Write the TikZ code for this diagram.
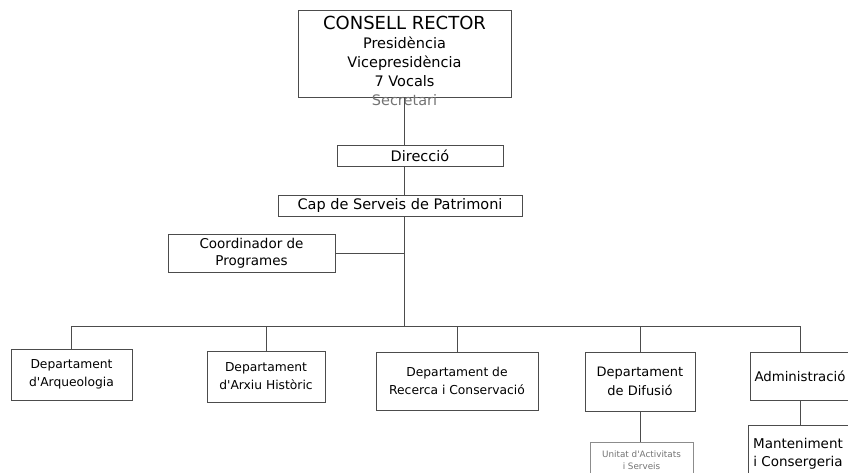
\documentclass[tikz,border=0pt]{standalone}
\usepackage{fontspec}
\setmainfont{DejaVu Sans}
\tikzset{
    box/.style={draw=black!70, line width=0.8pt, align=center, inner sep=0pt},   % organ boxes
    link/.style={draw=black!70, line width=0.8pt}
    }
\newcommand{\apos}{\textquotesingle}

\begin{document}
\begin{tikzpicture}[x=1pt,y=-1pt]
	\useasboundingbox (0,0) rectangle (848,472);
	\clip (0,0) rectangle (848,472);

	% governing body
	\node[box, minimum width=213pt, minimum height=87pt] (rector) at (404.5,53.5) {};
	\node[align=center, font=\fontsize{14.5}{18.8}\selectfont] (rectortxt) at (404.5,61)
		{{\fontsize{18}{18.8}\selectfont CONSELL RECTOR}\\Presidència\\Vicepresidència\\7 Vocals\\\textcolor{black!55}{Secretari}};

	\node[box, minimum width=166pt, minimum height=21pt, font=\fontsize{14.5}{16}\selectfont] (direccio) at (420,155.5) {Direcció};
	\node[box, minimum width=244pt, minimum height=21pt, font=\fontsize{14.5}{16}\selectfont] (cap) at (400,205.5) {Cap de Serveis de Patrimoni};
	\node[box, minimum width=167pt, minimum height=38pt, font=\fontsize{13.5}{17}\selectfont] (coord) at (251.5,253) {Coordinador de\\Programes};

	% departments
	\node[box, minimum width=121pt, minimum height=51pt, font=\fontsize{12.3}{18}\selectfont] (arq) at (71.5,374.5) {Departament\\d\apos Arqueologia};
	\node[box, minimum width=118pt, minimum height=51pt, font=\fontsize{12.3}{18}\selectfont] (arxiu) at (266,376.5) {Departament\\d\apos Arxiu Històric};
	\node[box, minimum width=162pt, minimum height=58pt, font=\fontsize{12.3}{18}\selectfont] (recerca) at (457,381) {Departament de\\Recerca i Conservació};
	\node[box, minimum width=110pt, minimum height=59pt, font=\fontsize{13}{19}\selectfont] (difusio) at (640,381.5) {Departament\\de Difusió};
	\node[box, minimum width=100pt, minimum height=48pt, font=\fontsize{13.3}{18}\selectfont] (admin) at (800,376) {Administració};

	\node[box, draw=black!45, text=black!55, minimum width=103pt, minimum height=36pt, font=\fontsize{8.8}{12}\selectfont] (unitat) at (641.5,460) {Unitat d\apos Activitats\\i Serveis};
	\node[box, minimum width=100pt, minimum height=58pt, font=\fontsize{13.5}{18}\selectfont] (mant) at (798,454) {Manteniment\\i Consergeria};

	% connectors
	\coordinate (bar) at (404,326);
	\draw[link] (rector.south) -- (rector.south |- direccio.north);
	\draw[link] (direccio.south -| bar) -- (cap.north -| bar);
	\draw[link] (cap.south -| bar) -- (bar);
	\draw[link] (coord.east) -- (coord.east -| bar);
	\draw[link] (arq.north |- bar) -- (admin.north |- bar);
	\foreach \d in {arq,arxiu,recerca,difusio,admin}
		\draw[link] (\d.north |- bar) -- (\d.north);
	\draw[link] (difusio.south) -- (difusio.south |- unitat.north);
	\draw[link] (admin.south) -- (admin.south |- mant.north);
\end{tikzpicture}
\end{document}
